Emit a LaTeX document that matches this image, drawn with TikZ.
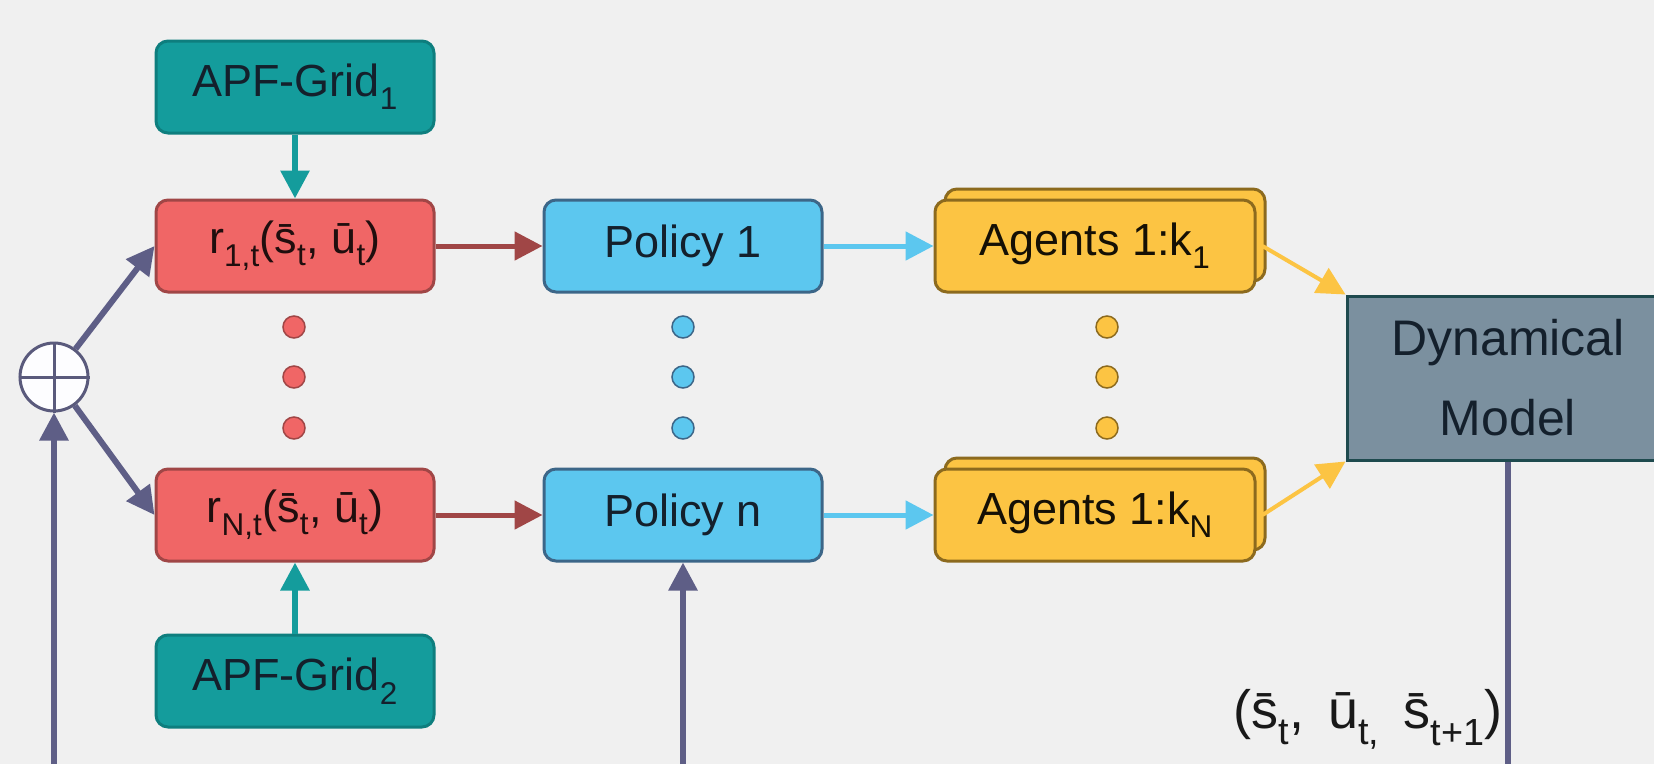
\documentclass[tikz,border=0pt]{standalone}
\usepackage{fontspec}
\setmainfont{Liberation Sans}
\usetikzlibrary{arrows.meta,shadows}
\definecolor{bgc}{HTML}{F0F0F0}
\definecolor{tealf}{HTML}{149C9C}
\definecolor{teald}{HTML}{0E7E7E}
\definecolor{redf}{HTML}{F06666}
\definecolor{redd}{HTML}{A04646}
\definecolor{bluef}{HTML}{5CC7EF}
\definecolor{blued}{HTML}{3C6688}
\definecolor{yelf}{HTML}{FCC443}
\definecolor{yeld}{HTML}{8C6A1E}
\definecolor{dmf}{HTML}{7B909F}
\definecolor{dmd}{HTML}{1E4A4E}
\definecolor{sumd}{HTML}{5A5A7C}
\definecolor{arrg}{HTML}{5E5E86}
\definecolor{txt}{HTML}{14202C}
\tikzset{
  bx/.style={draw, rounded corners=12pt, line width=3pt, minimum width=278pt, minimum height=92pt, inner sep=0pt, font=\fontsize{45}{55}\selectfont, text=txt},
  apf/.style={bx, fill=tealf, draw=teald},
  rew/.style={bx, fill=redf, draw=redd, text=black!80!redd},
  pol/.style={bx, fill=bluef, draw=blued},
  agt/.style={bx, fill=yelf, draw=yeld, minimum width=320pt, text=black!85!yeld, copy shadow={shadow xshift=10pt, shadow yshift=11pt}},
  dotr/.style={circle, draw=redd, fill=redf, line width=1.5pt, minimum size=22pt, inner sep=0pt},
  dotb/.style={circle, draw=blued, fill=bluef, line width=1.5pt, minimum size=22pt, inner sep=0pt},
  doty/.style={circle, draw=yeld, fill=yelf, line width=1.5pt, minimum size=22pt, inner sep=0pt},
  tip/.style={-{Triangle[length=28pt,width=28pt]}},
  garr/.style={tip, draw=arrg, line width=6pt},
  carr/.style={tip, line width=5pt},
}
\begin{document}
\begin{tikzpicture}[x=1pt,y=-1pt]
\fill[bgc] (0,0) rectangle (1654,764);
\useasboundingbox (0,0) rectangle (1654,764);
% nodes
\node[apf] (apf1) at (295,87) {APF-Grid\textsubscript{1}};
\node[rew] (r1) at (295,246) {r\textsubscript{1,t}(\=s\textsubscript{t}, \=u\textsubscript{t})};
\node[rew] (rN) at (295,515) {r\textsubscript{N,t}(\=s\textsubscript{t}, \=u\textsubscript{t})};
\node[apf] (apf2) at (295,681) {APF-Grid\textsubscript{2}};
\node[pol] (p1) at (683,246) {Policy 1};
\node[pol] (pn) at (683,515) {Policy n};
\node[agt] (a1) at (1095,246) {Agents 1:k\textsubscript{1}};
\node[agt] (aN) at (1095,515) {Agents 1:k\textsubscript{N}};
\node[draw=dmd, fill=dmf, line width=3pt, minimum width=322pt, minimum height=164pt, inner sep=0pt, align=center, text=txt, font=\fontsize{50}{80}\selectfont] (dm) at (1508,378) {Dynamical\\Model};
\node[circle, draw=sumd, fill=white!80!blue!4, line width=3pt, minimum size=68pt, inner sep=0pt] (sum) at (54,377) {};
\draw[sumd, line width=3pt] (sum.north) -- (sum.south) (sum.west) -- (sum.east);
% dots
\foreach \y [count=\i] in {327,377,428}{
  \node[dotr] (dr\i) at (294,\y) {};
  \node[dotb] (db\i) at (683,\y) {};
  \node[doty] (dy\i) at (1107,\y) {};
}
% label
\node[font=\fontsize{54}{60}\selectfont, text=black!90, inner sep=2pt] (lab) at (1368,719) {(\=s\textsubscript{t},\, \=u\textsubscript{t,}\, \=s\textsubscript{t+1})};
% free ends
\coordinate (b1) at (54,764);
\coordinate (b2) at (683,764);
\coordinate (b3) at (1508,764);
% connectors
\draw[garr] (b1) -- (sum.south);
\draw[garr] (sum) -- (r1.west);
\draw[garr] (sum) -- (rN.west);
\draw[garr] (b2) -- (pn.south);
\draw[arrg, line width=6pt] (dm.south) -- (b3);
\draw[carr, draw=tealf, line width=6pt] (apf1.south) -- (r1.north);
\draw[carr, draw=tealf, line width=6pt] (apf2.north) -- (rN.south);
\draw[carr, draw=redd] (r1.east) -- (p1.west);
\draw[carr, draw=redd] (rN.east) -- (pn.west);
\draw[carr, draw=bluef] (p1.east) -- (a1.west);
\draw[carr, draw=bluef] (pn.east) -- (aN.west);
\draw[carr, draw=yelf, line width=4pt] ([xshift=6pt]a1.east) -- (dm.north west);
\draw[carr, draw=yelf, line width=4pt] ([xshift=6pt]aN.east) -- (dm.south west);
\end{tikzpicture}
\end{document}
